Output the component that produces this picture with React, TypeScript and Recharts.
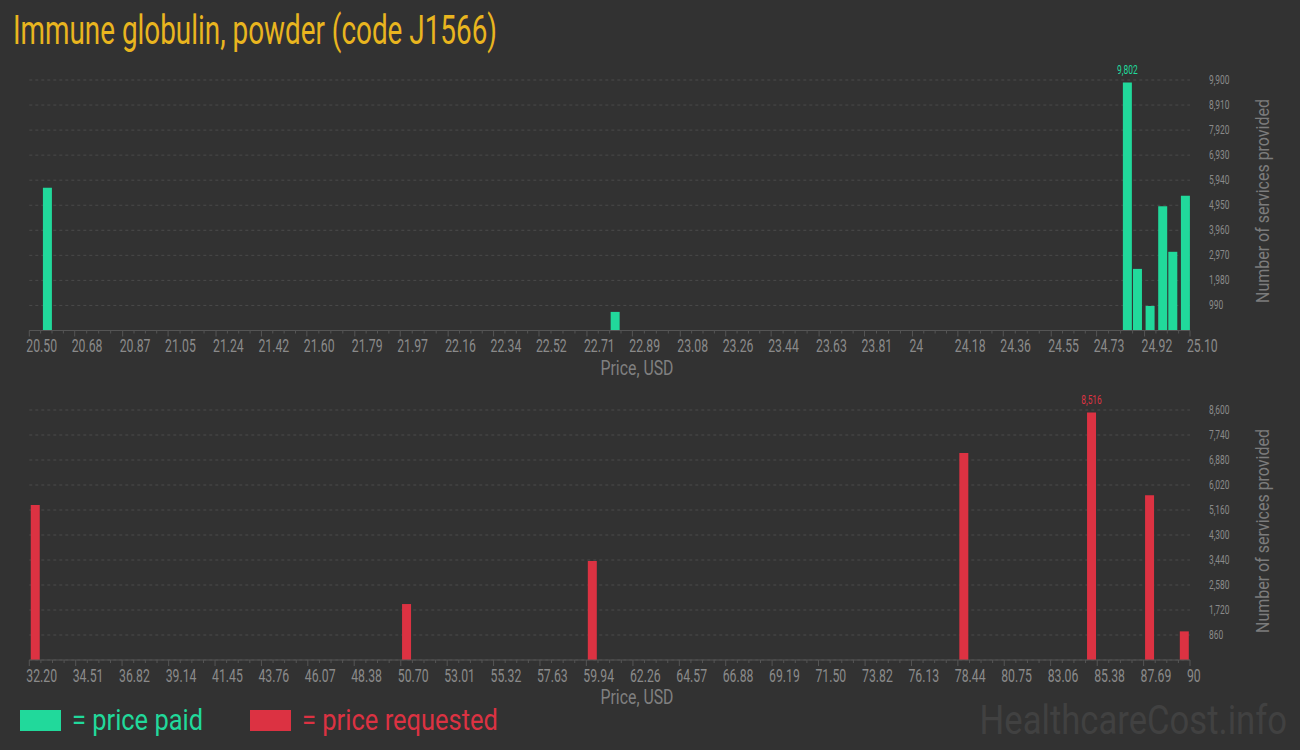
import { Bar, BarChart, CartesianGrid, LabelList, XAxis, YAxis } from "recharts";

// price paid (top chart)
const paidPrices = [20.57, 22.82, 24.85, 24.89, 24.94, 24.99, 25.03, 25.08];
const paidCounts = [5640, 735, 9802, 2435, 970, 4910, 3110, 5325];
const paidTickLabels = [
  "20.50", "20.68", "20.87", "21.05", "21.24", "21.42", "21.60", "21.79", "21.97",
  "22.16", "22.34", "22.52", "22.71", "22.89", "23.08", "23.26", "23.44", "23.63",
  "23.81", "24", "24.18", "24.36", "24.55", "24.73", "24.92", "25.10"
];
const paidYTicks = [990, 1980, 2970, 3960, 4950, 5940, 6930, 7920, 8910, 9900];

// price requested (bottom chart)
const requestedPrices = [32.49, 50.98, 60.23, 78.73, 85.09, 87.98, 89.71];
const requestedCounts = [5330, 1925, 3405, 7120, 8516, 5665, 985];
const requestedTickLabels = [
  "32.20", "34.51", "36.82", "39.14", "41.45", "43.76", "46.07", "48.38", "50.70",
  "53.01", "55.32", "57.63", "59.94", "62.26", "64.57", "66.88", "69.19", "71.50",
  "73.82", "76.13", "78.44", "80.75", "83.06", "85.38", "87.69", "90"
];
const requestedYTicks = [860, 1720, 2580, 3440, 4300, 5160, 6020, 6880, 7740, 8600];

const BG = "#323232";
const GREEN = "#21d99b";
const RED = "#dc3242";
const GOLD = "#e9b51f";
const TICK = "#8a8a8a";
const AXIS = "#555555";
const GRID = "#4a4a4a";
const FONT = "Roboto";

function withMinorTicks(majors: number[]): number[] {
  const out: number[] = [];
  majors.forEach((v, i) => {
    out.push(v);
    const next = majors[i + 1];
    if (next !== undefined) {
      [0.25, 0.5, 0.75].forEach((q) => out.push(v + (next - v) * q));
    }
  });
  return out;
}

function PriceTick(props: any) {
  const { x, y, payload, majors, labels } = props;
  const i = majors.findIndex((m: number) => Math.abs(m - payload.value) < 1e-6);
  if (i < 0) {
    return <line x1={x} x2={x} y1={y} y2={y + 3} stroke={AXIS} />;
  }
  return (
    <g>
      <line x1={x} x2={x} y1={y} y2={y + 6} stroke={AXIS} />
      <g transform={`translate(${x - 3},${y + 21.5})`}>
        <text transform="scale(0.68,1)" fontSize={18} fill={TICK} fontFamily={FONT}>
          {labels[i]}
        </text>
      </g>
    </g>
  );
}

function CountTick(props: any) {
  const { x, y, payload } = props;
  return (
    <g transform={`translate(${x + 19},${y + 4})`}>
      <text transform="scale(0.7,1)" fontSize={12} fill={TICK} fontFamily={FONT}>
        {Number(payload.value).toLocaleString("en-US")}
      </text>
    </g>
  );
}

type PanelProps = {
  prices: number[];
  counts: number[];
  tickLabels: string[];
  yTicks: number[];
  color: string;
  height: number;
  marginTop: number;
  marginBottom: number;
};

function PricePanel({ prices, counts, tickLabels, yTicks, color, height, marginTop, marginBottom }: PanelProps) {
  const data = prices.map((price, i) => ({ price, count: counts[i] }));
  const majors = tickLabels.map(Number);
  const maxCount = Math.max(...counts);
  return (
    <BarChart
      width={1300}
      height={height}
      data={data}
      margin={{ top: marginTop, right: 0, bottom: marginBottom, left: 29.3 }}
    >
      <CartesianGrid vertical={false} strokeDasharray="3 3" stroke={GRID} />
      <XAxis
        dataKey="price"
        type="number"
        domain={[majors[0], majors[majors.length - 1]]}
        allowDataOverflow
        ticks={withMinorTicks(majors)}
        interval={0}
        height={50}
        tickSize={0}
        tickMargin={0}
        tickLine={false}
        axisLine={{ stroke: AXIS }}
        tick={(p: any) => <PriceTick {...p} majors={majors} labels={tickLabels} />}
        label={{
          content: (lp: any) => (
            <text
              x={637}
              y={lp.viewBox.y + 44}
              textAnchor="middle"
              fontSize={19.5}
              fill="#808080"
              fontFamily={FONT}
              textLength={73}
              lengthAdjust="spacingAndGlyphs"
            >
              Price, USD
            </text>
          )
        }}
      />
      <YAxis
        orientation="right"
        width={110}
        domain={[0, yTicks[yTicks.length - 1]]}
        ticks={yTicks}
        interval={0}
        tickSize={0}
        tickMargin={0}
        axisLine={false}
        tickLine={false}
        tick={(p: any) => <CountTick {...p} />}
        label={{
          content: (lp: any) => (
            <text
              transform={`translate(${lp.viewBox.x + 79},${lp.viewBox.y + 121}) rotate(-90)`}
              textAnchor="middle"
              fontSize={19}
              fill="#7c7c7c"
              fontFamily={FONT}
              textLength={204}
              lengthAdjust="spacingAndGlyphs"
            >
              Number of services provided
            </text>
          )
        }}
      />
      <Bar dataKey="count" fill={color} barSize={9} isAnimationActive={false}>
        <LabelList
          dataKey="count"
          content={(lp: any) =>
            lp.value === maxCount ? (
              <g transform={`translate(${lp.x + lp.width / 2},${lp.y - 8.5})`}>
                <text transform="scale(0.7,1)" textAnchor="middle" fontSize={12} fill={color} fontFamily={FONT}>
                  {Number(lp.value).toLocaleString("en-US")}
                </text>
              </g>
            ) : null
          }
        />
      </Bar>
    </BarChart>
  );
}

export default function App() {
  return (
    <div
      style={{
        position: "absolute",
        left: 0,
        top: 0,
        width: 1300,
        height: 750,
        background: BG,
        overflow: "hidden",
        fontFamily: FONT
      }}
    >
      <svg width={1300} height={750} style={{ position: "absolute", left: 0, top: 0 }}>
        <text x={13} y={44} fontSize={41} fill={GOLD} fontFamily={FONT} textLength={484} lengthAdjust="spacingAndGlyphs">
          Immune globulin, powder (code J1566)
        </text>
        <rect x={20} y={710} width={41} height={21} fill={GREEN} />
        <text x={72} y={730} fontSize={30} fill={GREEN} fontFamily={FONT} textLength={131} lengthAdjust="spacingAndGlyphs">
          = price paid
        </text>
        <rect x={250} y={710} width={41} height={21} fill={RED} />
        <text x={302} y={730} fontSize={30} fill={RED} fontFamily={FONT} textLength={196} lengthAdjust="spacingAndGlyphs">
          = price requested
        </text>
        <g transform="translate(1287,734)">
          <text transform="scale(0.845,1)" textAnchor="end" fontSize={41} fill="#414141" fontFamily={FONT}>
            HealthcareCost.info
          </text>
        </g>
      </svg>
      <div style={{ position: "absolute", left: 0, top: 0 }}>
        <PricePanel
          prices={paidPrices}
          counts={paidCounts}
          tickLabels={paidTickLabels}
          yTicks={paidYTicks}
          color={GREEN}
          height={390}
          marginTop={80}
          marginBottom={9.5}
        />
      </div>
      <div style={{ position: "absolute", left: 0, top: 390 }}>
        <PricePanel
          prices={requestedPrices}
          counts={requestedCounts}
          tickLabels={requestedTickLabels}
          yTicks={requestedYTicks}
          color={RED}
          height={360}
          marginTop={20}
          marginBottom={40}
        />
      </div>
    </div>
  );
}
